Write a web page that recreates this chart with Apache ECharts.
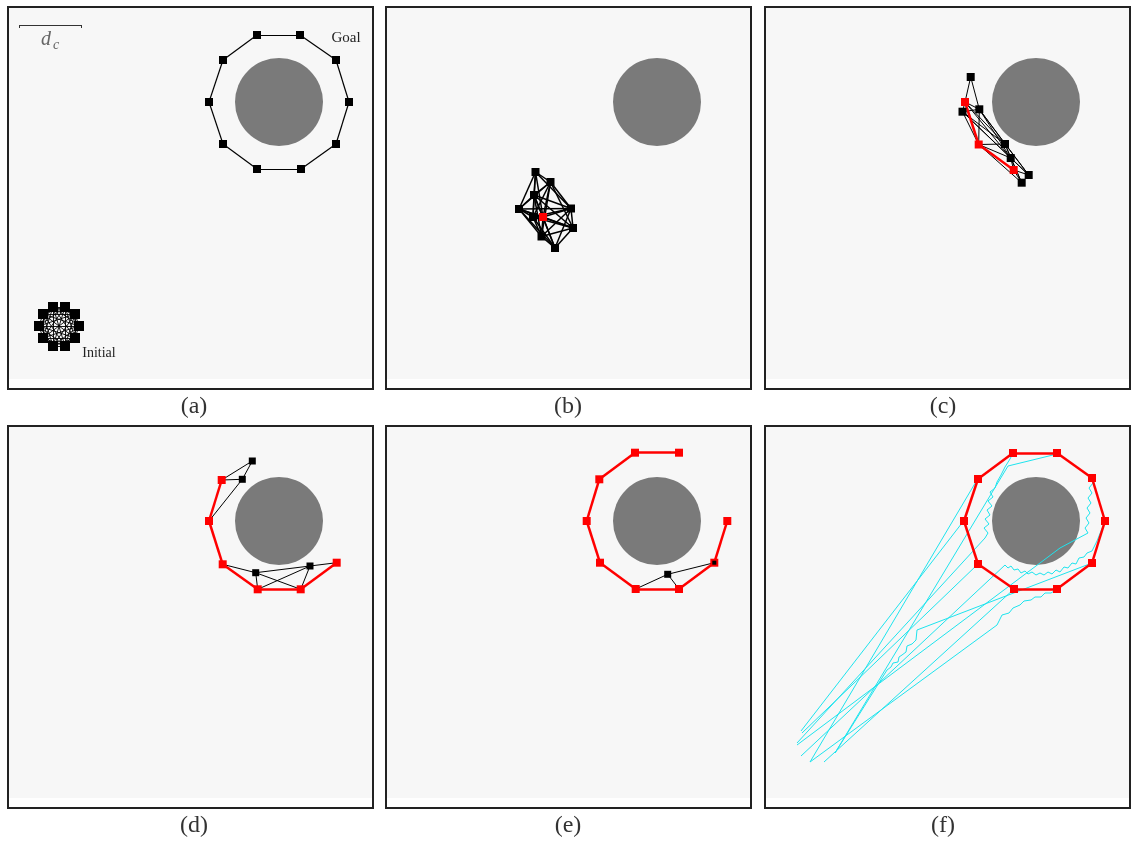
<!DOCTYPE html>
<html><head><meta charset="utf-8">
<script src="https://cdn.jsdelivr.net/npm/echarts@6/dist/echarts.min.js"></script>
<style>html,body{margin:0;padding:0;background:#fff}#c{width:1133px;height:844px}</style>
</head><body><div id="c"></div><script>
// ---- data (field units, origin at top-left of each panel, y downward) ----
const FIELD_W = 363, FIELD_H = 371;
const panelLabels = ['(a)', '(b)', '(c)', '(d)', '(e)', '(f)'];
const commRange = 62;                       // d_c
const scaleBar = [[10, 17], [72, 17]];
const obstacleCenter = [270, 94];
const obstacleDiameter = 88;

const goalA = [[248,27],[291,27],[327,52],[340,94],[327,136],[292,161],[248,161],[214,136],[200,94],[214,52]];
const initialA = [[70,318],[66,306],[56,299],[44,299],[34,306],[30,318],[34,330],[44,338],[56,338],[66,330]];

const nodesB = [[148.5,164],[163.5,174],[147,187],[132,201],[184,200.5],[156,209],[146,209],[186,220],[154.5,228.5],[168,240]];
const redB = [5];

const nodesC = [[204.7,69],[199,94],[196.5,103.7],[213.3,101.3],[212.7,136.5],[239,136],[244.7,150],[247.7,162],[262.7,167],[255.7,174.7]];
const redC = [1, 4, 7];
const redChainC = [1, 4, 7];
const blackEdgesC = [[0,1],[0,3],[1,3],[2,3],[1,2],[2,4],[3,4],[1,5],[2,5],[3,5],[1,6],[3,6],[2,6],[4,5],[4,6],[5,6],[5,8],[6,8],[6,7],[7,8],[7,9],[6,9],[3,8],[5,9],[4,9],[2,8]];

const nodesD = [[212.7,53],[200,94],[213.7,137.3],[248.7,162.3],[291.7,162.3],[327.7,135.7],[243.3,34],[233.3,52.3],[246.7,145.7],[301,139]];
const redD = [0,1,2,3,4,5];
const redChainD = [0,1,2,3,4,5];
const blackEdgesD = [[6,7],[6,0],[7,0],[7,1],[2,8],[8,9],[8,3],[8,4],[9,3],[9,4],[9,5]];

const nodesE = [[292,25.7],[248,25.7],[212.3,52.3],[199.7,94],[213,135.7],[248.7,162],[292,162],[327.3,135.7],[340.3,94],[280.7,147.3]];
const redE = [0,1,2,3,4,5,6,7,8];
const redChainE = [0,1,2,3,4,5,6,7,8];
const blackEdgesE = [[9,5],[9,7],[9,6]];
const innerBlackE = [7];

const nodesF = [[247,26],[291,26],[326,51],[339,94],[326,136],[291,162],[248,162],[212,137],[198,94],[212,52]];
const redChainF = [0,1,2,3,4,5,6,7,8,9,0];
const pathsF = [
  [[44,335],[211,53]],
  [[35,304],[196,96]],
  [[31,316],[219,111],[222,106],[218,101],[223,97],[219,92],[224,88],[221,83],[226,79],[222,74],[227,70],[224,65],[229,61],[231,55],[235,48],[239,40],[244,32],[247,26]],
  [[69,326],[242,39],[291,27]],
  [[35,329],[239,138],[242,141],[245,139],[248,143],[252,142],[255,146],[259,144],[262,147],[266,145],[270,148],[274,146],[278,148],[282,145],[286,147],[290,143],[294,145],[298,140],[302,141],[306,136],[310,137],[313,131],[318,130],[321,126],[326,124],[331,114],[339,94]],
  [[36,306],[212,137]],
  [[58,335],[248,162]],
  [[44,335],[231,198],[236,188],[243,186],[247,181],[254,178],[258,174],[265,173],[269,170],[275,170],[279,166],[285,166],[291,162]],
  [[69,326],[121,243],[125,240],[127,236],[132,235],[133,230],[136,228],[140,225],[141,219],[146,217],[150,213],[151,203],[326,136]],
  [[31,318],[294,121],[322,106],[319,101],[323,96],[320,91],[324,86],[321,81],[325,76],[322,71],[326,66],[323,61],[327,56],[326,51]]
];

// ---- layout ----
const colLeft = [9, 387, 766];
const rowTop = [8, 427];
const labelX = [194, 568, 943];
const labelY = [407, 826];

function rangeEdges(nodes, r) {
  const out = [];
  for (let i = 0; i < nodes.length; i++)
    for (let j = i + 1; j < nodes.length; j++) {
      const dx = nodes[i][0] - nodes[j][0], dy = nodes[i][1] - nodes[j][1];
      if (Math.hypot(dx, dy) <= r) out.push([nodes[i], nodes[j]]);
    }
  return out;
}
const pick = (nodes, idx) => idx.map(k => nodes[k]);
const notIn = (nodes, idx) => nodes.filter((_, k) => idx.indexOf(k) < 0);
const pairs = (nodes, list) => list.map(([a, b]) => [nodes[a], nodes[b]]);
const chain = (nodes, idx) => { const o = []; for (let k = 0; k < idx.length - 1; k++) o.push([nodes[idx[k]], nodes[idx[k + 1]]]); return o; };

const grids = [], xAxes = [], yAxes = [], series = [], graphics = [];
for (let i = 0; i < 6; i++) {
  const c = i % 3, r = Math.floor(i / 3);
  grids.push({ left: colLeft[c], top: rowTop[r], width: FIELD_W, height: FIELD_H, show: true,
    backgroundColor: '#f7f7f7', borderWidth: 0, containLabel: false, outerBoundsMode: 'none' });
  xAxes.push({ type: 'value', gridIndex: i, min: 0, max: FIELD_W, show: false });
  yAxes.push({ type: 'value', gridIndex: i, min: 0, max: FIELD_H, inverse: true, show: false });
  graphics.push({ type: 'rect', silent: true, z: 100,
    shape: { x: colLeft[c] - 1, y: rowTop[r] - 1, width: FIELD_W + 2, height: FIELD_H + 11 },
    style: { fill: 'none', stroke: '#222', lineWidth: 2 } });
  graphics.push({ type: 'text', silent: true, z: 100,
    style: { text: panelLabels[i], x: labelX[c], y: labelY[r], align: 'center', verticalAlign: 'middle',
      font: '24px "Liberation Serif", "DejaVu Serif", serif', fill: '#333' } });
}

function edgeSeries(i, edges, color, width, z) {
  return { type: 'lines', coordinateSystem: 'cartesian2d', xAxisIndex: i, yAxisIndex: i, silent: true, z: z,
    lineStyle: { color: color, width: width, opacity: 1, curveness: 0 },
    data: edges.map(e => ({ coords: e })) };
}
function nodeSeries(i, pts, color, size, z) {
  return { type: 'scatter', xAxisIndex: i, yAxisIndex: i, silent: true, symbol: 'rect', symbolSize: size, z: z,
    itemStyle: { color: color, opacity: 1 }, data: pts };
}
function pathSeries(i, paths) {
  return { type: 'lines', coordinateSystem: 'cartesian2d', polyline: true, xAxisIndex: i, yAxisIndex: i, silent: true, z: 2,
    lineStyle: { color: '#1ee4ee', width: 1, opacity: 1 }, data: paths.map(p => ({ coords: p })) };
}

// obstacles (panels a-f)
for (let i = 0; i < 6; i++) {
  series.push({ type: 'scatter', xAxisIndex: i, yAxisIndex: i, silent: true, z: 1, symbol: 'circle',
    symbolSize: obstacleDiameter, itemStyle: { color: '#7a7a7a', opacity: 1 }, data: [obstacleCenter] });
}
// (a)
series.push(edgeSeries(0, rangeEdges(goalA, commRange), '#000', 1.2, 3));
series.push(edgeSeries(0, rangeEdges(initialA, commRange), '#000', 0.9, 3));
series.push(nodeSeries(0, goalA, '#000', 8, 5));
series.push(nodeSeries(0, initialA, '#000', 10, 5));
series.push({ type: 'lines', coordinateSystem: 'cartesian2d', xAxisIndex: 0, yAxisIndex: 0, silent: true, z: 3,
  lineStyle: { color: '#333', width: 1, opacity: 1 },
  data: [{ coords: scaleBar },
         { coords: [scaleBar[0], [scaleBar[0][0], scaleBar[0][1] + 3]] },
         { coords: [scaleBar[1], [scaleBar[1][0], scaleBar[1][1] + 3]] }] });
// (b)
series.push(edgeSeries(1, rangeEdges(nodesB, commRange), '#000', 1.5, 3));
series.push(nodeSeries(1, notIn(nodesB, redB), '#000', 8, 5));
series.push(nodeSeries(1, pick(nodesB, redB), '#ff0000', 8, 6));
// (c)
series.push(edgeSeries(2, pairs(nodesC, blackEdgesC), '#000', 1, 3));
series.push(edgeSeries(2, chain(nodesC, redChainC), '#ff0000', 2.5, 4));
series.push(nodeSeries(2, notIn(nodesC, redC), '#000', 8, 5));
series.push(nodeSeries(2, pick(nodesC, redC), '#ff0000', 8, 6));
// (d)
series.push(edgeSeries(3, pairs(nodesD, blackEdgesD), '#000', 1, 3));
series.push(edgeSeries(3, chain(nodesD, redChainD), '#ff0000', 2.5, 4));
series.push(nodeSeries(3, notIn(nodesD, redD), '#000', 7, 5));
series.push(nodeSeries(3, pick(nodesD, redD), '#ff0000', 8, 6));
// (e)
series.push(edgeSeries(4, pairs(nodesE, blackEdgesE), '#000', 1, 3));
series.push(edgeSeries(4, chain(nodesE, redChainE), '#ff0000', 2.5, 4));
series.push(nodeSeries(4, notIn(nodesE, redE), '#000', 7, 5));
series.push(nodeSeries(4, pick(nodesE, redE), '#ff0000', 8, 6));
series.push(nodeSeries(4, pick(nodesE, innerBlackE), '#000', 4, 7));
// (f)
series.push(pathSeries(5, pathsF));
series.push(edgeSeries(5, chain(nodesF, redChainF), '#ff0000', 2.5, 4));
series.push(nodeSeries(5, nodesF, '#ff0000', 8, 6));

// panel (a) annotations
graphics.push({ type: 'text', silent: true, z: 100, style: { text: 'Goal', x: 346, y: 38, align: 'center', verticalAlign: 'middle',
  font: '15px "Liberation Serif", "DejaVu Serif", serif', fill: '#222' } });
graphics.push({ type: 'text', silent: true, z: 100, style: { text: 'Initial', x: 99, y: 353, align: 'center', verticalAlign: 'middle',
  font: '14px "Liberation Serif", "DejaVu Serif", serif', fill: '#222' } });
graphics.push({ type: 'text', silent: true, z: 100, style: { text: 'd', x: 46, y: 40, align: 'center', verticalAlign: 'middle',
  font: 'italic 20px "Liberation Serif", "DejaVu Serif", serif', fill: '#666' } });
graphics.push({ type: 'text', silent: true, z: 100, style: { text: 'c', x: 56, y: 45, align: 'center', verticalAlign: 'middle',
  font: 'italic 14px "Liberation Serif", "DejaVu Serif", serif', fill: '#666' } });

const chart = echarts.init(document.getElementById('c'), null, { renderer: 'canvas' });
chart.setOption({ animation: false, backgroundColor: '#fff', grid: grids, xAxis: xAxes, yAxis: yAxes, series: series, graphic: graphics });
</script></body></html>
